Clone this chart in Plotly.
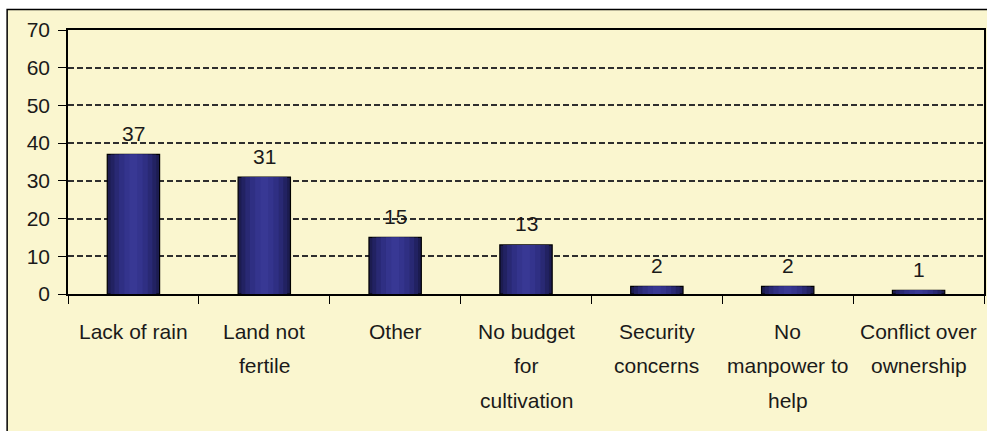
import plotly.graph_objects as go

# Reasons for not cultivating land (number of responses)
categories = [
    "Lack of rain",
    "Land not<br>fertile",
    "Other",
    "No budget<br>for<br>cultivation",
    "Security<br>concerns",
    "No<br>manpower to<br>help",
    "Conflict over<br>ownership",
]
counts = [37, 31, 15, 13, 2, 2, 1]
y_ticks = [0, 10, 20, 30, 40, 50, 60, 70]

FONT = "Liberation Sans, Arial, sans-serif"
TEXT = "#1a1a1a"
BG = "#FAF6CF"

fig = go.Figure()

# Shaded bars: overlaid strips, darker at the edges and lighter towards the middle
strips = [
    (0.40, "#1C1C50"),
    (0.35, "#222262"),
    (0.29, "#292974"),
    (0.22, "#2F2F83"),
    (0.14, "#34348D"),
    (0.06, "#383894"),
]
for i, (w, col) in enumerate(strips):
    fig.add_trace(go.Bar(
        x=categories, y=counts, width=w,
        marker=dict(color=col,
                    line=dict(color="#000000", width=1.2 if i == 0 else 0)),
        hoverinfo="skip", showlegend=False,
    ))

# Value labels above the bars
for c, v in zip(categories, counts):
    fig.add_annotation(x=c, y=v, xref="x", yref="y", text=str(v),
                       showarrow=False, yanchor="middle", yshift=21,
                       font=dict(family=FONT, size=21, color=TEXT))

# Category labels, one line per annotation for wide line spacing
for c in categories:
    for j, line in enumerate(c.split("<br>")):
        fig.add_annotation(x=c, y=0, xref="x", yref="paper", text=line,
                           showarrow=False, yanchor="middle",
                           yshift=-37 - 34.5 * j,
                           font=dict(family=FONT, size=21, color=TEXT))

# Yellow chart area with a thin black border
fig.add_shape(type="rect", xref="paper", yref="paper",
              x0=(7 - 68) / 918, x1=(1010 - 68) / 918,
              y0=(294 - 460) / 264, y1=(294 - 9.5) / 264,
              fillcolor=BG, line=dict(color="#000000", width=1.5),
              layer="below")

fig.update_layout(
    width=987, height=431,
    margin=dict(l=68, r=1, t=30, b=137),
    paper_bgcolor="#ffffff",
    plot_bgcolor="rgba(0,0,0,0)",
    barmode="overlay",
    font=dict(family=FONT, size=21, color=TEXT),
    showlegend=False,
    xaxis=dict(
        type="category",
        showticklabels=False,
        tickson="boundaries",
        ticks="outside", ticklen=8, tickcolor="#000000", tickwidth=1.2,
        showline=True, linecolor="#000000", linewidth=1.5, mirror=True,
        showgrid=False, zeroline=False,
        range=[-0.5, len(categories) - 0.5],
    ),
    yaxis=dict(
        range=[0, 70],
        tickvals=y_ticks,
        ticks="outside", ticklen=8, tickcolor="#000000", tickwidth=1.2,
        ticklabelstandoff=4,
        tickfont=dict(family=FONT, size=21, color=TEXT),
        showline=True, linecolor="#000000", linewidth=1.5, mirror=True,
        showgrid=True, gridcolor="#2e2e2e", griddash="6px,3px", gridwidth=1.5,
        zeroline=False,
    ),
)

fig.write_html("out.html")
